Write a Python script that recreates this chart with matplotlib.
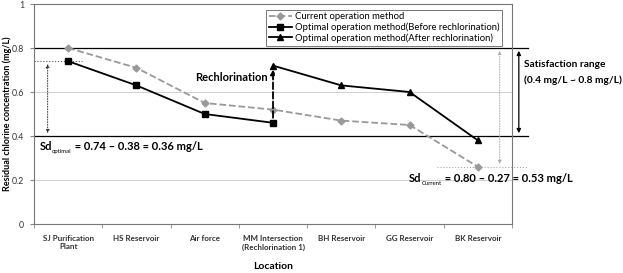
import numpy as np
import matplotlib
matplotlib.use("Agg")
import matplotlib.pyplot as plt

plt.rcParams['font.family'] = ['Lato', 'DejaVu Sans']

locations = ["SJ Purification\nPlant", "HS Reservoir", "Air force",
             "MM Intersection\n(Rechlorination 1)", "BH Reservoir",
             "GG Reservoir", "BK Reservoir"]
current = [0.80, 0.71, 0.55, 0.52, 0.47, 0.45, 0.26]
before = [0.74, 0.63, 0.50, 0.46]
after = [0.72, 0.63, 0.60, 0.38]
sat_low, sat_high = 0.4, 0.8

x = np.arange(len(locations))


def sd_label(ax, xpos, ypos, sub, rest):
    # "Sd" with a tiny subscript, then the rest of the equation
    t1 = ax.text(xpos, ypos, 'Sd', ha='left', va='center', fontsize=8,
                 fontweight='bold')
    t2 = ax.annotate(sub, xy=(1.0, 0.1), xycoords=t1, ha='left', va='center',
                     fontsize=4.3)
    ax.annotate(rest, xy=(1.0, 0.5), xycoords=(t2, t1), ha='left', va='center',
                fontsize=8, fontweight='bold')


fig = plt.figure(figsize=(6.23, 2.73), dpi=100)
ax = fig.add_axes([34/623, 49/273, 478/623, 220/273])

# grid lines
for g in [0.2, 0.6]:
    ax.axhline(g, color='#d0d0d0', lw=0.7, zorder=0)

# satisfaction bounds, drawn a bit past the right edge
xr = 6.73
ax.plot([-0.5, xr], [sat_high, sat_high], color='k', lw=0.9, clip_on=False, zorder=1)
ax.plot([-0.5, xr], [sat_low, sat_low], color='k', lw=0.9, clip_on=False, zorder=1)

ax.plot(x, current, color='#999999', ls='--', lw=1.3, marker='D', ms=3.5,
        label='Current operation method', zorder=3)
ax.plot(x[:4], before, color='k', lw=1.3, marker='s', ms=4,
        label='Optimal operation method(Before rechlorination)', zorder=4)
ax.plot(x[3:], after, color='k', lw=1.3, marker='^', ms=4,
        label='Optimal operation method(After rechlorination)', zorder=4)

# rechlorination arrow
ax.annotate('', xy=(3, after[0] - 0.005), xytext=(3, before[3] + 0.01),
            arrowprops=dict(arrowstyle='-|>', color='k', lw=1.3, ls='--',
                            mutation_scale=7), zorder=5)
ax.text(2.93, 0.665, 'Rechlorination', ha='right', va='center',
        fontsize=8, fontweight='bold')

# Sd optimal
ax.plot([-0.5, 0.2], [before[0], before[0]], color='#555555', ls=':', lw=0.8)
ax.annotate('', xy=(-0.3, sat_low), xytext=(-0.3, before[0]),
            arrowprops=dict(arrowstyle='<|-|>', color='#333333', lw=0.7, ls=':',
                            mutation_scale=5))
sd_label(ax, -0.42, 0.35, 'optimal', ' = 0.74 – 0.38 = 0.36 mg/L')

# Sd current
ax.plot([5.4, xr], [current[6], current[6]], color='#aaaaaa', ls=':', lw=0.8,
        clip_on=False)
ax.annotate('', xy=(6.32, sat_high), xytext=(6.32, current[6]),
            arrowprops=dict(arrowstyle='<|-|>', color='#aaaaaa', lw=0.7, ls=':',
                            mutation_scale=5), annotation_clip=False)
sd_label(ax, 4.99, 0.205, 'Current', ' = 0.80 – 0.27 = 0.53 mg/L')

# satisfaction range arrow
ax.annotate('', xy=(6.6, sat_low), xytext=(6.6, sat_high),
            arrowprops=dict(arrowstyle='<|-|>', color='k', lw=0.9,
                            mutation_scale=6), annotation_clip=False)
ax.text(6.67, 0.723, 'Satisfaction range', ha='left', va='center',
        fontsize=7.3, fontweight='bold')
ax.text(6.67, 0.655, '(0.4 mg/L ~ 0.8 mg/L)', ha='left', va='center',
        fontsize=7.3, fontweight='bold')

ax.set_xlim(-0.5, 6.5)
ax.set_ylim(0, 1)
ax.set_yticks([0, 0.2, 0.4, 0.6, 0.8, 1])
ax.set_yticklabels(['0', '0.2', '0.4', '0.6', '0.8', '1'])
ax.set_xticks(x)
ax.set_xticklabels(locations, fontsize=5.8, fontweight='bold', color='#333333')
ax.set_xticks(np.arange(-0.5, 7, 1), minor=True)
ax.tick_params(axis='x', which='major', length=0, pad=8)
ax.tick_params(axis='x', which='minor', length=3, color='#888888')
ax.tick_params(axis='y', labelsize=6.3, length=3, pad=4, color='#888888',
               labelcolor='#333333')
for s in ax.spines.values():
    s.set_color('#777777')
    s.set_linewidth(0.8)

ax.set_xlabel('Location', fontsize=7.5, fontweight='bold', labelpad=8)
ax.set_ylabel('Residual chlorine concentration (mg/L)', fontsize=6.5,
              fontweight='bold')
ax.yaxis.set_label_coords(-0.047, 0.5)

leg = ax.legend(loc='upper left', bbox_to_anchor=(0.485, 0.975), fontsize=6.8,
                frameon=True, fancybox=False, borderpad=0.3, labelspacing=0.12,
                handlelength=2.5, handletextpad=0.3, borderaxespad=0)
leg.get_frame().set_edgecolor('#555555')
leg.get_frame().set_linewidth(0.7)

fig.savefig('out.png', dpi=100)
